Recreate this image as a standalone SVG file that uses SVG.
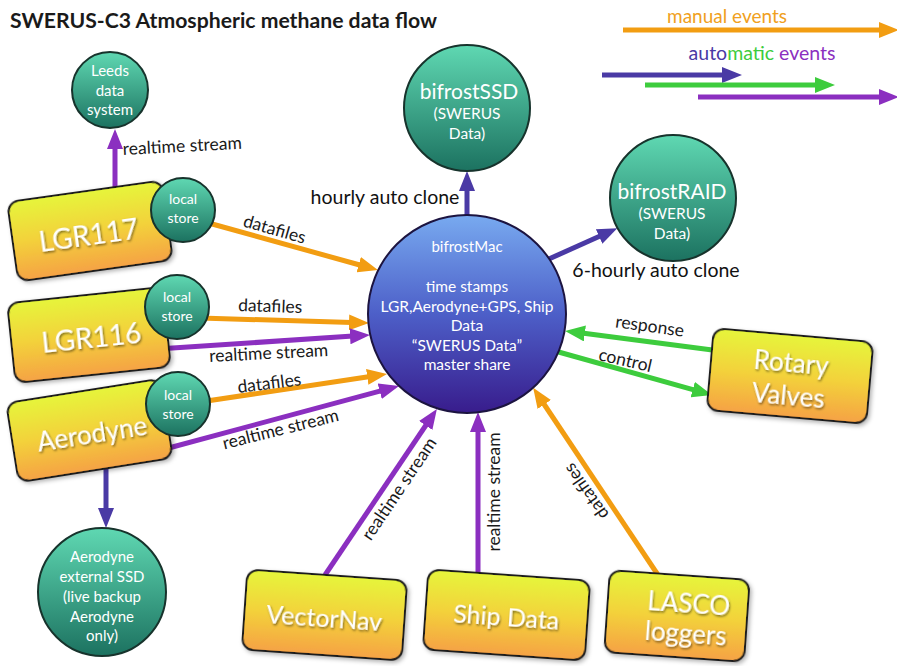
<svg xmlns="http://www.w3.org/2000/svg" width="897" height="666" viewBox="0 0 897 666">
<defs>
<style>
text{font-family:Lato,"Open Sans","Liberation Sans",sans-serif}
.title{font-size:20px;font-weight:bold;fill:#1a1a1a}
.lbl{font-size:17.5px;fill:#1a1a1a}
.big{font-size:19.5px;fill:#111}
.ct{fill:#fff;text-anchor:middle}
.bt{fill:#fff;text-anchor:middle;filter:url(#tsh)}
.box{fill:url(#boxG);stroke:#1b1b1b;stroke-width:2;filter:url(#bsh)}
.teal{fill:url(#tealG);stroke:#17332c;stroke-width:2}
.mac{fill:url(#macG);stroke:#1c1440;stroke-width:2}
.e{fill:none;stroke-width:5}
.o{stroke:#f29d12;marker-end:url(#mo)}
.p{stroke:#8b2fc0;marker-end:url(#mp)}
.b{stroke:#4a3aa5;marker-end:url(#mb)}
.g{stroke:#3dcc3d;marker-end:url(#mg)}
</style>
<linearGradient id="boxG" x1="0" y1="0" x2="0" y2="1">
<stop offset="0" stop-color="#e6f53a"/><stop offset="0.5" stop-color="#f3d23a"/><stop offset="1" stop-color="#f5a245"/>
</linearGradient>
<linearGradient id="tealG" x1="0" y1="0" x2="0" y2="1">
<stop offset="0" stop-color="#5fd8b2"/><stop offset="1" stop-color="#1c7260"/>
</linearGradient>
<linearGradient id="macG" x1="0" y1="0" x2="0" y2="1">
<stop offset="0" stop-color="#78aaf0"/><stop offset="0.5" stop-color="#4d5fc8"/><stop offset="1" stop-color="#381c8c"/>
</linearGradient>
<filter id="tsh" x="-20%" y="-30%" width="140%" height="160%"><feDropShadow dx="1" dy="1.5" stdDeviation="1.2" flood-color="#000" flood-opacity="0.55"/></filter>
<filter id="bsh" x="-10%" y="-10%" width="125%" height="130%"><feDropShadow dx="2" dy="2" stdDeviation="2" flood-color="#000" flood-opacity="0.3"/></filter>
<marker id="mo" viewBox="0 0 20 16" refX="3" refY="8" markerWidth="20" markerHeight="16" markerUnits="userSpaceOnUse" orient="auto"><path d="M0,0 L20,8 L0,16 Z" fill="#f29d12"/></marker>
<marker id="mp" viewBox="0 0 20 16" refX="3" refY="8" markerWidth="20" markerHeight="16" markerUnits="userSpaceOnUse" orient="auto"><path d="M0,0 L20,8 L0,16 Z" fill="#8b2fc0"/></marker>
<marker id="mb" viewBox="0 0 20 16" refX="3" refY="8" markerWidth="20" markerHeight="16" markerUnits="userSpaceOnUse" orient="auto"><path d="M0,0 L20,8 L0,16 Z" fill="#4a3aa5"/></marker>
<marker id="mg" viewBox="0 0 20 16" refX="3" refY="8" markerWidth="20" markerHeight="16" markerUnits="userSpaceOnUse" orient="auto"><path d="M0,0 L20,8 L0,16 Z" fill="#3dcc3d"/></marker>
</defs>
<rect width="897" height="666" fill="#fff"/>
<text class="title" x="10" y="28" textLength="427" lengthAdjust="spacingAndGlyphs">SWERUS-C3 Atmospheric methane data flow</text>

<g id="legend">
<text x="727" y="23" text-anchor="middle" style="font-size:19px;fill:#f0a020">manual events</text>
<text x="762" y="60" text-anchor="middle" style="font-size:19.5px"><tspan fill="#4a3aa5">auto</tspan><tspan fill="#3dcc3d">matic</tspan><tspan fill="#8b2fc0"> events</tspan></text>
<line class="e o" x1="623" y1="30" x2="882" y2="30"/>
<line class="e b" x1="602" y1="75" x2="725" y2="75"/>
<line class="e g" x1="645" y1="85" x2="818" y2="85"/>
<line class="e p" x1="698" y1="97" x2="882" y2="97"/>
</g>

<g id="connectors">
<line class="e p" x1="115" y1="195" x2="115" y2="146"/>
<line class="e o" x1="205" y1="222" x2="361.6" y2="265.5"/>
<line class="e o" x1="200" y1="318" x2="352" y2="322.5"/>
<line class="e p" x1="165" y1="348.5" x2="353" y2="336.1"/>
<line class="e o" x1="200" y1="402" x2="370.2" y2="376.5"/>
<line class="e p" x1="165" y1="449" x2="382.6" y2="390.4"/>
<line class="e b" x1="106" y1="460" x2="106" y2="511"/>
<line class="e p" x1="325" y1="575" x2="427.4" y2="423"/>
<line class="e p" x1="478" y1="575" x2="478" y2="429"/>
<line class="e o" x1="658" y1="575" x2="542.6" y2="402"/>
<line class="e b" x1="467" y1="225" x2="467" y2="188"/>
<line class="e b" x1="540" y1="263" x2="601.8" y2="235.2"/>
<line class="e g" x1="720" y1="351" x2="581.9" y2="333.1"/>
<line class="e g" x1="555" y1="351" x2="695.6" y2="390.4"/>

<text class="lbl" x="123" y="155" transform="rotate(-3 123 155)">realtime stream</text>
<text class="lbl" x="273" y="235" text-anchor="middle" transform="rotate(16 273 235)">datafiles</text>
<text class="lbl" x="270" y="312" text-anchor="middle" transform="rotate(2 270 312)">datafiles</text>
<text class="lbl" x="269" y="359" text-anchor="middle" transform="rotate(-3 269 359)">realtime stream</text>
<text class="lbl" x="270" y="389" text-anchor="middle" transform="rotate(-7 270 389)">datafiles</text>
<text class="lbl" x="282" y="435" text-anchor="middle" transform="rotate(-14 282 435)">realtime stream</text>
<text class="lbl" x="404" y="492" text-anchor="middle" transform="rotate(-56 404 492)">realtime stream</text>
<text class="lbl" x="500" y="492" text-anchor="middle" transform="rotate(-90 500 492)">realtime stream</text>
<text class="lbl" x="591" y="488" text-anchor="middle" transform="rotate(-125 591 488)">datafiles</text>
<text class="big" x="385" y="204" text-anchor="middle">hourly auto clone</text>
<text class="big" x="656" y="277" text-anchor="middle">6-hourly auto clone</text>
<text class="lbl" x="649" y="332" text-anchor="middle" transform="rotate(8 649 332)">response</text>
<text class="lbl" x="624" y="366" text-anchor="middle" transform="rotate(13 624 366)">control</text>
</g>

<g id="leeds">
<circle class="teal" cx="110" cy="90" r="38"/>
<text class="ct" x="110" y="76" style="font-size:15px">Leeds</text>
<text class="ct" x="110" y="96" style="font-size:15px">data</text>
<text class="ct" x="110" y="115" style="font-size:15px">system</text>
</g>

<g id="lgr117" transform="translate(90,231) rotate(-8)">
<rect class="box" x="-78" y="-40" width="156" height="80" rx="11"/>
<text class="bt" x="-2" y="14" style="font-size:28px">LGR117</text>
</g>
<g id="lgr117-store">
<circle class="teal" cx="183" cy="210" r="32"/>
<text class="ct" x="183" y="204" style="font-size:14px">local</text>
<text class="ct" x="183" y="223" style="font-size:14px">store</text>
</g>

<g id="lgr116" transform="translate(89,335) rotate(-6)">
<rect class="box" x="-78" y="-40" width="156" height="80" rx="11"/>
<text class="bt" x="2" y="13" style="font-size:28px">LGR116</text>
</g>
<g id="lgr116-store">
<circle class="teal" cx="177" cy="307" r="32"/>
<text class="ct" x="177" y="302" style="font-size:14px">local</text>
<text class="ct" x="177" y="321" style="font-size:14px">store</text>
</g>

<g id="aerodyne" transform="translate(89.5,430.5) rotate(-9)">
<rect class="box" x="-78" y="-40" width="156" height="80" rx="11"/>
<text class="bt" x="2" y="13" style="font-size:26px">Aerodyne</text>
</g>
<g id="aerodyne-store">
<circle class="teal" cx="178" cy="404" r="32"/>
<text class="ct" x="178" y="400" style="font-size:14px">local</text>
<text class="ct" x="178" y="419" style="font-size:14px">store</text>
</g>

<g id="aerodyne-ssd">
<circle class="teal" cx="102" cy="592" r="64"/>
<text class="ct" x="102" y="562" style="font-size:15px">Aerodyne</text>
<text class="ct" x="102" y="582" style="font-size:15px">external SSD</text>
<text class="ct" x="102" y="602" style="font-size:15px">(live backup</text>
<text class="ct" x="102" y="622" style="font-size:15px">Aerodyne</text>
<text class="ct" x="102" y="641" style="font-size:15px">only)</text>
</g>

<g id="bifrostSSD">
<circle class="teal" cx="467" cy="108" r="63"/>
<text class="ct" x="469" y="99" style="font-size:21px">bifrostSSD</text>
<text class="ct" x="467" y="119" style="font-size:15.5px">(SWERUS</text>
<text class="ct" x="467" y="139" style="font-size:15.5px">Data)</text>
</g>

<g id="bifrostRAID">
<circle class="teal" cx="673" cy="198" r="63"/>
<text class="ct" x="672" y="199" style="font-size:21px">bifrostRAID</text>
<text class="ct" x="672" y="219" style="font-size:15.5px">(SWERUS</text>
<text class="ct" x="672" y="239" style="font-size:15.5px">Data)</text>
</g>

<g id="bifrostMac">
<circle class="mac" cx="467" cy="314" r="99"/>
<text class="ct" x="467" y="252" style="font-size:15px">bifrostMac</text>
<text class="ct" x="467" y="292" style="font-size:15.5px">time stamps</text>
<text class="ct" x="467" y="312" style="font-size:15.5px">LGR,Aerodyne+GPS, Ship</text>
<text class="ct" x="467" y="331" style="font-size:15.5px">Data</text>
<text class="ct" x="467" y="351" style="font-size:15.5px">“SWERUS Data”</text>
<text class="ct" x="467" y="370" style="font-size:15.5px">master share</text>
</g>

<g id="rotary" transform="translate(790,376) rotate(5)">
<rect class="box" x="-80" y="-41" width="160" height="82" rx="11"/>
<text class="bt" x="0" y="-4" style="font-size:26px">Rotary</text>
<text class="bt" x="0" y="29" style="font-size:26px">Valves</text>
</g>

<g id="vectornav" transform="translate(324.5,615) rotate(4)">
<rect class="box" x="-80" y="-40" width="160" height="80" rx="11"/>
<text class="bt" x="0" y="12" style="font-size:25px">VectorNav</text>
</g>

<g id="shipdata" transform="translate(506.5,615) rotate(4)">
<rect class="box" x="-81" y="-40" width="162" height="80" rx="11"/>
<text class="bt" x="0" y="11" style="font-size:25px">Ship Data</text>
</g>

<g id="lasco" transform="translate(677,615) rotate(4)">
<rect class="box" x="-70" y="-40" width="140" height="82" rx="11"/>
<text class="bt" x="11" y="-3" style="font-size:26px">LASCO</text>
<text class="bt" x="10" y="27" style="font-size:26px">loggers</text>
</g>
</svg>
